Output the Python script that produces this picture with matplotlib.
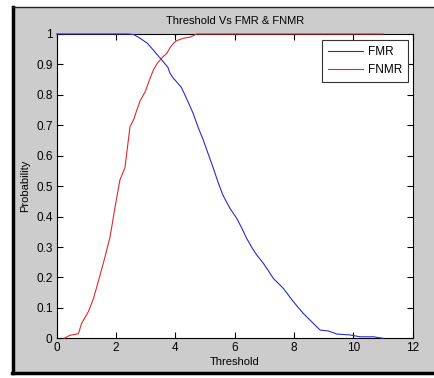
import matplotlib
matplotlib.use("Agg")
import matplotlib.pyplot as plt
from matplotlib.patches import Rectangle
from matplotlib.lines import Line2D

# values
fmr_thr = [0, 2.4, 2.6, 2.81, 3.05, 3.26, 3.45, 3.59, 3.75, 3.82, 3.93, 4.04, 4.2, 4.32,
           4.46, 4.6, 4.78, 4.94, 5.11, 5.28, 5.45, 5.6, 5.84, 6.07, 6.25, 6.4, 6.6, 6.74,
           6.97, 7.15, 7.3, 7.64, 7.98, 8.31, 8.65, 8.88, 9.16, 9.44, 9.89, 10.22, 10.67, 11.0]
fmr = [1, 1, 0.998, 0.986, 0.97, 0.947, 0.925, 0.909, 0.89, 0.871, 0.855, 0.843, 0.825, 0.80,
       0.77, 0.739, 0.69, 0.652, 0.605, 0.559, 0.51, 0.471, 0.427, 0.394, 0.36, 0.329, 0.295,
       0.274, 0.246, 0.22, 0.197, 0.164, 0.12, 0.082, 0.049, 0.027, 0.024, 0.014, 0.011,
       0.005, 0.005, 0.0]

fnmr_thr = [0.25, 0.45, 0.73, 0.84, 1.07, 1.24, 1.40, 1.63, 1.80, 1.97, 2.13, 2.30, 2.47,
            2.60, 2.70, 2.81, 2.98, 3.15, 3.26, 3.40, 3.59, 3.71, 3.82, 3.93, 4.04, 4.27,
            4.5, 4.72, 11.0]
fnmr = [0, 0.01, 0.015, 0.049, 0.088, 0.131, 0.186, 0.268, 0.334, 0.433, 0.52, 0.56, 0.695,
        0.72, 0.75, 0.78, 0.81, 0.855, 0.882, 0.905, 0.926, 0.936, 0.955, 0.969, 0.978,
        0.986, 0.99, 1.0, 1.0]

xticks = [0, 2, 4, 6, 8, 10, 12]
yticks = [0, 0.1, 0.2, 0.3, 0.4, 0.5, 0.6, 0.7, 0.8, 0.9, 1]
ytick_labels = ["0", "0.1", "0.2", "0.3", "0.4", "0.5", "0.6", "0.7", "0.8", "0.9", "1"]

plt.rcParams['font.family'] = ['Liberation Sans', 'DejaVu Sans']
plt.rcParams['font.size'] = 8

W, H = 435, 378
fig = plt.figure(figsize=(W / 100, H / 100), dpi=100, facecolor='white')

# grey MATLAB-style figure panel with the black frame
fig.patches.append(Rectangle((12 / W, 1 - 373 / H), 1 - 12 / W, (373 - 7) / H,
                             transform=fig.transFigure, facecolor='#cccccc',
                             edgecolor='none', zorder=-10))
fig.lines.append(Line2D([13.5 / W, 13.5 / W], [1 - 373 / H, 1 - 7 / H],
                        transform=fig.transFigure, color='black', lw=2.5, zorder=-5))
fig.lines.append(Line2D([12 / W, 1], [1 - 372.5 / H, 1 - 372.5 / H],
                        transform=fig.transFigure, color='black', lw=2.5, zorder=-5))
fig.lines.append(Line2D([12 / W, 1], [1 - 7 / H, 1 - 7 / H],
                        transform=fig.transFigure, color='#222222', lw=1, zorder=-5))

ax = fig.add_axes([56.7 / W, 1 - 338.3 / H, (412.7 - 56.7) / W, (338.3 - 34) / H])
ax.set_facecolor('white')

# lines sit on top of the spines (y = 1 runs along the top edge in the original)
ax.plot(fmr_thr, fmr, color='#2a2ad0', lw=0.8, label='FMR', zorder=3, clip_on=False)
ax.plot(fnmr_thr, fnmr, color='#dd2a2e', lw=0.8, label='FNMR', zorder=3, clip_on=False)

ax.set_xlim(0, 12)
ax.set_ylim(0, 1)
ax.set_xticks(xticks)
ax.set_yticks(yticks)
ax.set_yticklabels(ytick_labels)
ax.tick_params(direction='in', length=4, width=0.8, top=True, right=True,
               labelsize=8.5, pad=3, colors='black')
for s in ax.spines.values():
    s.set_linewidth(0.8)

ax.set_title('Threshold Vs FMR & FNMR', fontsize=8, pad=7)
ax.set_xlabel('Threshold', labelpad=2)
ax.set_ylabel('Probability', labelpad=4)

leg = ax.legend(loc='upper right', bbox_to_anchor=(0.987, 0.980), borderaxespad=0,
                fancybox=False, framealpha=1, edgecolor='#333333', handlelength=3.0,
                handletextpad=0.4, borderpad=0.5, labelspacing=0.5, fontsize=8.5)
leg.get_frame().set_linewidth(0.8)
leg.set_zorder(5)

fig.savefig('out.png', dpi=100, facecolor='white')
